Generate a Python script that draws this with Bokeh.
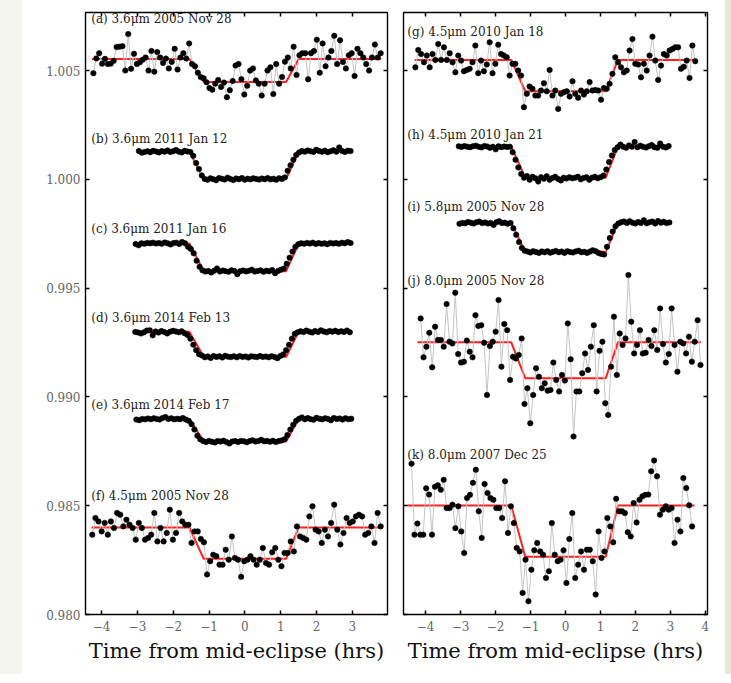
import numpy as np
from bokeh.plotting import figure
from bokeh.models import Range1d, FixedTicker, LinearAxis, CustomJSTickFormatter, ColumnDataSource, Spacer
from bokeh.layouts import row
from bokeh.embed import file_html
from bokeh.resources import INLINE
from bokeh.core.properties import value

# ---------------- data ----------------
x_ticks_left = [-4, -3, -2, -1, 0, 1, 2, 3]
x_ticks_right = [-4, -3, -2, -1, 0, 1, 2, 3, 4]
y_ticks = [0.980, 0.985, 0.990, 0.995, 1.000, 1.005]
contacts = [-1.55, -1.15, 1.15, 1.50]

labels_left = ["(a) 3.6\u03bcm 2005 Nov 28", "(b) 3.6\u03bcm 2011 Jan 12", "(c) 3.6\u03bcm 2011 Jan 16",
               "(d) 3.6\u03bcm 2014 Feb 13", "(e) 3.6\u03bcm 2014 Feb 17", "(f) 4.5\u03bcm 2005 Nov 28"]
labels_right = ["(g) 4.5\u03bcm 2010 Jan 18", "(h) 4.5\u03bcm 2010 Jan 21", "(i) 5.8\u03bcm 2005 Nov 28",
                "(j) 8.0\u03bcm 2005 Nov 28", "(k) 8.0\u03bcm 2007 Dec 25"]

t_first_left = [-4.23, -2.96, -3.05, -3.06, -3.03, -4.26]
t_last_left = [3.79, 2.95, 2.95, 2.93, 2.97, 3.79]
t_first_right = [-4.29, -3.05, -3.03, -4.14, -4.40]
t_last_right = [3.71, 2.95, 2.97, 3.86, 3.62]

base_left = [1.00553, 1.00128, 0.99705, 0.99300, 0.98899, 0.98400]
low_left = [1.00448, 1.00003, 0.99578, 0.99185, 0.98795, 0.98256]
base_right = [1.00549, 1.00151, 0.99800, 0.99251, 0.98501]
low_right = [1.00405, 1.00008, 0.99667, 0.99086, 0.98265]

model_start_left = [-4.27, -2.97, -3.06, -3.07, -3.04, -4.28]
model_end_left = [3.80, 2.96, 2.96, 2.95, 2.98, 3.80]
model_start_right = [-4.31, -3.06, -3.04, -4.23, -4.52]
model_end_right = [3.72, 2.96, 2.98, 3.87, 3.69]

flux_a = [1.00488, 1.00556, 1.00580, 1.00532, 1.00554, 1.00530, 1.00532, 1.00545, 1.00608, 1.00610,
          1.00612, 1.00500, 1.00668, 1.00508, 1.00577, 1.00530, 1.00538, 1.00550, 1.00560, 1.00500,
          1.00590, 1.00495, 1.00585, 1.00560, 1.00535, 1.00555, 1.00510, 1.00540, 1.00600, 1.00505,
          1.00560, 1.00580, 1.00555, 1.00625, 1.00530, 1.00520, 1.00490, 1.00470, 1.00465, 1.00446,
          1.00420, 1.00412, 1.00440, 1.00457, 1.00425, 1.00445, 1.00378, 1.00410, 1.00452, 1.00523,
          1.00530, 1.00460, 1.00390, 1.00430, 1.00500, 1.00510, 1.00455, 1.00440, 1.00385, 1.00440,
          1.00500, 1.00515, 1.00392, 1.00530, 1.00440, 1.00470, 1.00541, 1.00560, 1.00510, 1.00610,
          1.00480, 1.00570, 1.00580, 1.00580, 1.00460, 1.00580, 1.00590, 1.00642, 1.00490, 1.00625,
          1.00520, 1.00560, 1.00590, 1.00660, 1.00530, 1.00640, 1.00540, 1.00510, 1.00570, 1.00580,
          1.00475, 1.00600, 1.00580, 1.00560, 1.00530, 1.00500, 1.00560, 1.00620, 1.00560, 1.00580]

flux_b = [1.00130, 1.00122, 1.00126, 1.00129, 1.00125, 1.00131, 1.00128, 1.00124, 1.00130, 1.00127,
          1.00133, 1.00126, 1.00129, 1.00135, 1.00127, 1.00124, 1.00131, 1.00128, 1.00126,
          1.00108, 1.00075, 1.00048, 1.00018,
          1.00002, 0.99998, 1.00005, 1.00001, 0.99996, 1.00006, 1.00003, 0.99999, 1.00008, 1.00002,
          0.99997, 1.00004, 1.00001, 1.00006, 0.99998, 1.00003, 1.00000, 1.00005, 1.00002, 0.99999,
          1.00004, 1.00001, 1.00006, 1.00000, 1.00003, 0.99998, 1.00005, 1.00002, 1.00009,
          1.00040, 1.00065, 1.00090, 1.00112,
          1.00124, 1.00130, 1.00127, 1.00133, 1.00129, 1.00126, 1.00136, 1.00130, 1.00127, 1.00132,
          1.00125, 1.00129, 1.00134, 1.00127, 1.00147, 1.00130, 1.00126, 1.00132, 1.00130]

flux_c = [0.99703, 0.99697, 0.99706, 0.99704, 0.99708, 0.99706, 0.99709, 0.99705, 0.99707, 0.99704,
          0.99710, 0.99706, 0.99701, 0.99707, 0.99709, 0.99703, 0.99712, 0.99706, 0.99690,
          0.99680, 0.99660, 0.99626, 0.99598,
          0.99582, 0.99576, 0.99579, 0.99572, 0.99580, 0.99590, 0.99576, 0.99581, 0.99578, 0.99575,
          0.99582, 0.99579, 0.99564, 0.99578, 0.99581, 0.99577, 0.99580, 0.99585, 0.99576, 0.99579,
          0.99582, 0.99575, 0.99580, 0.99578, 0.99583, 0.99569, 0.99579, 0.99585, 0.99590,
          0.99612, 0.99640, 0.99668, 0.99690,
          0.99702, 0.99706, 0.99704, 0.99708, 0.99705, 0.99709, 0.99703, 0.99707, 0.99704, 0.99706,
          0.99702, 0.99708, 0.99705, 0.99707, 0.99704, 0.99709, 0.99706, 0.99712, 0.99707]

flux_d = [0.99299, 0.99296, 0.99292, 0.99297, 0.99305, 0.99306, 0.99283, 0.99301, 0.99296, 0.99303,
          0.99298, 0.99292, 0.99300, 0.99304, 0.99301, 0.99297, 0.99302, 0.99293, 0.99285,
          0.99268, 0.99240, 0.99215, 0.99196,
          0.99190, 0.99182, 0.99186, 0.99179, 0.99188, 0.99184, 0.99187, 0.99181, 0.99189, 0.99185,
          0.99183, 0.99187, 0.99182, 0.99188, 0.99184, 0.99186, 0.99181, 0.99187, 0.99185, 0.99183,
          0.99188, 0.99184, 0.99186, 0.99182, 0.99187, 0.99184, 0.99178, 0.99188, 0.99195,
          0.99215, 0.99240, 0.99268, 0.99290,
          0.99297, 0.99302, 0.99298, 0.99305, 0.99300, 0.99296, 0.99303, 0.99299, 0.99306, 0.99301,
          0.99297, 0.99303, 0.99300, 0.99304, 0.99298, 0.99302, 0.99299, 0.99305, 0.99297]

flux_e = [0.98896, 0.98893, 0.98899, 0.98897, 0.98901, 0.98898, 0.98902, 0.98899, 0.98896, 0.98903,
          0.98908, 0.98899, 0.98902, 0.98897, 0.98900, 0.98898, 0.98903, 0.98896, 0.98890,
          0.98875, 0.98850, 0.98822, 0.98805,
          0.98797, 0.98793, 0.98798, 0.98794, 0.98791, 0.98797, 0.98795, 0.98799, 0.98793, 0.98786,
          0.98795, 0.98797, 0.98793, 0.98798, 0.98796, 0.98792, 0.98797, 0.98801, 0.98795, 0.98797,
          0.98803, 0.98796, 0.98798, 0.98794, 0.98799, 0.98793, 0.98797, 0.98800, 0.98806,
          0.98825, 0.98850, 0.98872, 0.98890,
          0.98900, 0.98906, 0.98897, 0.98903, 0.98898, 0.98895, 0.98904, 0.98900, 0.98897, 0.98902,
          0.98899, 0.98893, 0.98903, 0.98899, 0.98901, 0.98896, 0.98902, 0.98898, 0.98900]

flux_f = [0.98367, 0.98443, 0.98428, 0.98382, 0.98421, 0.98367, 0.98428, 0.98398, 0.98467, 0.98459,
          0.98405, 0.98436, 0.98413, 0.98398, 0.98344, 0.98421, 0.98398, 0.98344, 0.98352, 0.98367,
          0.98467, 0.98336, 0.98398, 0.98336, 0.98375, 0.98482, 0.98344, 0.98375, 0.98467, 0.98428,
          0.98413, 0.98413, 0.98329, 0.98382, 0.98382, 0.98347, 0.98332, 0.98184, 0.98245, 0.98275,
          0.98268, 0.98229, 0.98229, 0.98298, 0.98252, 0.98359, 0.98260, 0.98252, 0.98173, 0.98245,
          0.98252, 0.98268, 0.98252, 0.98229, 0.98252, 0.98306, 0.98237, 0.98229, 0.98286, 0.98306,
          0.98252, 0.98222, 0.98283, 0.98283, 0.98336, 0.98290, 0.98405, 0.98359, 0.98352, 0.98344,
          0.98451, 0.98497, 0.98390, 0.98382, 0.98329, 0.98390, 0.98359, 0.98421, 0.98505, 0.98390,
          0.98322, 0.98375, 0.98443, 0.98421, 0.98428, 0.98451, 0.98459, 0.98451, 0.98367, 0.98375,
          0.98405, 0.98329, 0.98467, 0.98405]

flux_g = [1.00515, 1.00595, 1.00576, 1.00538, 1.00569, 1.00515, 1.00576, 1.00549, 1.00622, 1.00549,
          1.00607, 1.00549, 1.00580, 1.00538, 1.00492, 1.00569, 1.00546, 1.00497, 1.00503, 1.00508,
          1.00538, 1.00615, 1.00488, 1.00546, 1.00497, 1.00528, 1.00630, 1.00488, 1.00531, 1.00619,
          1.00576, 1.00569, 1.00561, 1.00477, 1.00531, 1.00531, 1.00500, 1.00477, 1.00332, 1.00393,
          1.00427, 1.00416, 1.00385, 1.00385, 1.00408, 1.00442, 1.00405, 1.00503, 1.00385, 1.00408,
          1.00324, 1.00393, 1.00401, 1.00405, 1.00381, 1.00451, 1.00393, 1.00375, 1.00408, 1.00390,
          1.00405, 1.00447, 1.00408, 1.00411, 1.00408, 1.00366, 1.00420, 1.00416, 1.00439, 1.00485,
          1.00561, 1.00538, 1.00515, 1.00492, 1.00500, 1.00592, 1.00645, 1.00531, 1.00528, 1.00469,
          1.00531, 1.00500, 1.00569, 1.00656, 1.00546, 1.00457, 1.00523, 1.00576, 1.00569, 1.00592,
          1.00599, 1.00607, 1.00607, 1.00508, 1.00518, 1.00546, 1.00466, 1.00615, 1.00543]

flux_h = [1.00152, 1.00149, 1.00153, 1.00150, 1.00148, 1.00152, 1.00155, 1.00150, 1.00147, 1.00153,
          1.00151, 1.00145, 1.00150, 1.00138, 1.00152, 1.00148, 1.00151, 1.00149, 1.00150,
          1.00125, 1.00090, 1.00055, 1.00025,
          1.00008, 1.00015, 0.99998, 1.00012, 1.00005, 0.99990, 1.00010, 1.00003, 1.00014, 0.99998,
          1.00006, 1.00012, 1.00002, 0.99995, 1.00008, 1.00004, 1.00010, 1.00005, 1.00008, 1.00012,
          1.00000, 1.00006, 1.00010, 0.99998, 1.00008, 1.00012, 1.00005, 1.00010, 1.00018,
          1.00045, 1.00080, 1.00110, 1.00135,
          1.00148, 1.00160, 1.00150, 1.00145, 1.00156, 1.00150, 1.00172, 1.00148, 1.00155, 1.00150,
          1.00146, 1.00152, 1.00158, 1.00148, 1.00145, 1.00165, 1.00150, 1.00147, 1.00153]

flux_i = [0.99796, 0.99800, 0.99798, 0.99804, 0.99801, 0.99797, 0.99803, 0.99806, 0.99799, 0.99802,
          0.99797, 0.99800, 0.99790, 0.99803, 0.99807, 0.99799, 0.99801, 0.99796, 0.99800,
          0.99775, 0.99745, 0.99712, 0.99685,
          0.99672, 0.99668, 0.99664, 0.99670, 0.99666, 0.99662, 0.99669, 0.99665, 0.99670, 0.99663,
          0.99667, 0.99671, 0.99665, 0.99668, 0.99662, 0.99670, 0.99666, 0.99664, 0.99669, 0.99672,
          0.99665, 0.99667, 0.99662, 0.99668, 0.99674, 0.99670, 0.99662, 0.99657, 0.99655,
          0.99690, 0.99730, 0.99760, 0.99785,
          0.99797, 0.99803, 0.99806, 0.99799, 0.99808, 0.99801, 0.99797, 0.99804, 0.99800, 0.99812,
          0.99798, 0.99803, 0.99806, 0.99797, 0.99809, 0.99801, 0.99805, 0.99799, 0.99802]

flux_j = [0.99361, 0.99182, 0.99231, 0.99295, 0.99136, 0.99323, 0.99262, 0.99262, 0.99231, 0.99427,
          0.99254, 0.99246, 0.99479, 0.99197, 0.99158, 0.99162, 0.99259, 0.99208, 0.99182, 0.99376,
          0.99326, 0.99330, 0.99249, 0.99009, 0.99234, 0.99254, 0.99300, 0.99445, 0.99139, 0.99335,
          0.99307, 0.99078, 0.99185, 0.99177, 0.99193, 0.99269, 0.98968, 0.99040, 0.98879, 0.99009,
          0.99132, 0.99093, 0.99040, 0.99063, 0.99029, 0.99032, 0.99158, 0.99078, 0.99025, 0.99101,
          0.99075, 0.99338, 0.99173, 0.98818, 0.99025, 0.99025, 0.99109, 0.99200, 0.99124, 0.99231,
          0.99330, 0.99025, 0.99212, 0.99254, 0.98971, 0.98917, 0.99139, 0.99369, 0.99101, 0.99292,
          0.99239, 0.99269, 0.99560, 0.99346, 0.99200, 0.99239, 0.99307, 0.99200, 0.99203, 0.99262,
          0.99234, 0.99307, 0.99216, 0.99407, 0.99243, 0.99158, 0.99197, 0.99407, 0.99239, 0.99116,
          0.99254, 0.99246, 0.99200, 0.99277, 0.99162, 0.99254, 0.99353, 0.99147]

flux_k = [0.98693, 0.98367, 0.98418, 0.98367, 0.98367, 0.98580, 0.98551, 0.98367, 0.98587, 0.98594,
          0.98573, 0.98619, 0.98489, 0.98489, 0.98505, 0.98397, 0.98497, 0.98382, 0.98283, 0.98535,
          0.98550, 0.98605, 0.98665, 0.98474, 0.98352, 0.98600, 0.98558, 0.98535, 0.98527, 0.98489,
          0.98489, 0.98443, 0.98612, 0.98375, 0.98497, 0.98420, 0.98306, 0.98290, 0.98099, 0.98252,
          0.98061, 0.98206, 0.98295, 0.98329, 0.98290, 0.98275, 0.98168, 0.98199, 0.98420, 0.98275,
          0.98245, 0.98252, 0.98295, 0.98145, 0.98347, 0.98466, 0.98168, 0.98229, 0.98290, 0.98206,
          0.98298, 0.98298, 0.98245, 0.98092, 0.98382, 0.98260, 0.98290, 0.98443, 0.98405, 0.98332,
          0.98532, 0.98474, 0.98474, 0.98466, 0.98378, 0.98359, 0.98512, 0.98423, 0.98527, 0.98543,
          0.98550, 0.98551, 0.98658, 0.98708, 0.98635, 0.98459, 0.98482, 0.98497, 0.98482, 0.98489,
          0.98329, 0.98436, 0.98382, 0.98627, 0.98581, 0.98502, 0.98405]

flux_left = [flux_a, flux_b, flux_c, flux_d, flux_e, flux_f]
flux_right = [flux_g, flux_h, flux_i, flux_j, flux_k]

# label anchor positions (data coordinates)
label_x_left = -4.29
label_y_left = [1.00737, 1.00187, 0.99774, 0.99361, 0.98963, 0.98543]
label_x_right = -4.52
label_y_right = [1.00676, 1.00202, 0.99873, 0.99534, 0.98734]

# ---------------- style ----------------
SERIF = "DejaVu Serif"
Y_MIN, Y_MAX = 0.980, 1.00767
FRAME_H = 602
TOP = 12
BOTTOM = 60


def tick_only_axis(ticks):
    ax = LinearAxis(ticker=FixedTicker(ticks=ticks))
    ax.major_label_text_font_size = "0px"
    ax.major_label_standoff = 0
    ax.major_label_text_alpha = 0
    ax.axis_line_alpha = 0
    ax.major_tick_in = 4
    ax.major_tick_out = 0
    ax.major_tick_line_width = 1.5
    ax.major_tick_line_color = "black"
    ax.minor_tick_line_color = None
    return ax


def make_panel(xr, xticks, frame_w, left_border, right_border, show_ylabels,
               fluxes, t_first, t_last, bases, lows, m_start, m_end, labels, lx, ly):
    p = figure(width=left_border + frame_w + right_border, height=TOP + FRAME_H + BOTTOM,
               x_range=Range1d(*xr), y_range=Range1d(Y_MIN, Y_MAX),
               output_backend="svg", toolbar_location=None,
               min_border_left=left_border, min_border_right=right_border,
               min_border_top=TOP, min_border_bottom=BOTTOM,
               x_axis_label="Time from mid-eclipse (hrs)")
    p.grid.visible = False
    p.background_fill_color = "white"
    p.border_fill_color = "white"
    p.outline_line_color = "black"
    p.outline_line_width = 1.4
    p.outline_line_alpha = 1.0

    xa = p.xaxis[0]
    xa.ticker = FixedTicker(ticks=xticks)
    xa.formatter = CustomJSTickFormatter(code="return tick < 0 ? '\u2212' + Math.abs(tick) : String(tick);")
    xa.major_label_text_font = SERIF
    xa.major_label_text_font_size = "12px"
    xa.major_label_text_color = "#666666"
    xa.major_label_standoff = 6
    xa.axis_label_text_font = SERIF
    xa.axis_label_text_font_size = "21px"
    xa.axis_label_text_font_style = "normal"
    xa.axis_label_text_color = "#111111"
    xa.axis_label_standoff = 5
    xa.axis_line_alpha = 0
    xa.major_tick_in = 4
    xa.major_tick_out = 0
    xa.major_tick_line_width = 1.5
    xa.minor_tick_line_color = None

    ya = p.yaxis[0]
    ya.ticker = FixedTicker(ticks=y_ticks)
    ya.axis_line_alpha = 0
    ya.major_tick_in = 4
    ya.major_tick_out = 0
    ya.major_tick_line_width = 1.5
    ya.minor_tick_line_color = None
    if show_ylabels:
        ya.formatter = CustomJSTickFormatter(code="return tick.toFixed(3);")
        ya.major_label_text_font = SERIF
        ya.major_label_text_font_size = "12px"
        ya.major_label_text_color = "#666666"
        ya.major_label_standoff = 5
    else:
        ya.major_label_text_font_size = "0px"
        ya.major_label_text_alpha = 0
        ya.major_label_standoff = 0

    p.add_layout(tick_only_axis(xticks), "above")
    p.add_layout(tick_only_axis(y_ticks), "right")

    for k in range(len(fluxes)):
        f = fluxes[k]
        t = np.linspace(t_first[k], t_last[k], len(f))
        mx = [m_start[k], contacts[0], contacts[1], contacts[2], contacts[3], m_end[k]]
        my = [bases[k], bases[k], lows[k], lows[k], bases[k], bases[k]]
        p.line(mx, my, line_color="#ff2020", line_width=2)
        p.line(t, f, line_color="#c4c4c4", line_width=1)
        p.scatter(t, f, size=5.5, fill_color="black", line_color="black", line_width=0.5)

    src = ColumnDataSource(dict(x=[lx] * len(labels), y=ly, text=labels))
    p.text(x="x", y="y", text="text", source=src, text_font=value(SERIF),
           text_font_size="12px", text_align="left", text_baseline="middle",
           text_color="#222222")
    return p


p1 = make_panel((-4.45, 3.98), x_ticks_left, 302, 63, 8, True,
                flux_left, t_first_left, t_last_left, base_left, low_left,
                model_start_left, model_end_left, labels_left, label_x_left, label_y_left)
p2 = make_panel((-4.63, 4.06), x_ticks_right, 304, 8, 14, False,
                flux_right, t_first_right, t_last_right, base_right, low_right,
                model_start_right, model_end_right, labels_right, label_x_right, label_y_right)

H = TOP + FRAME_H + BOTTOM
strip_left = Spacer(width=22, height=H, styles={"background-color": "#f4f6ee"})
gap_right = Spacer(width=4, height=H, styles={"background-color": "#ffffff"})
strip_right = Spacer(width=6, height=H, styles={"background-color": "#e3e9d3"})
layout = row(strip_left, p1, p2, gap_right, strip_right)

open("out.html", "w", encoding="utf-8").write(file_html(layout, INLINE))
